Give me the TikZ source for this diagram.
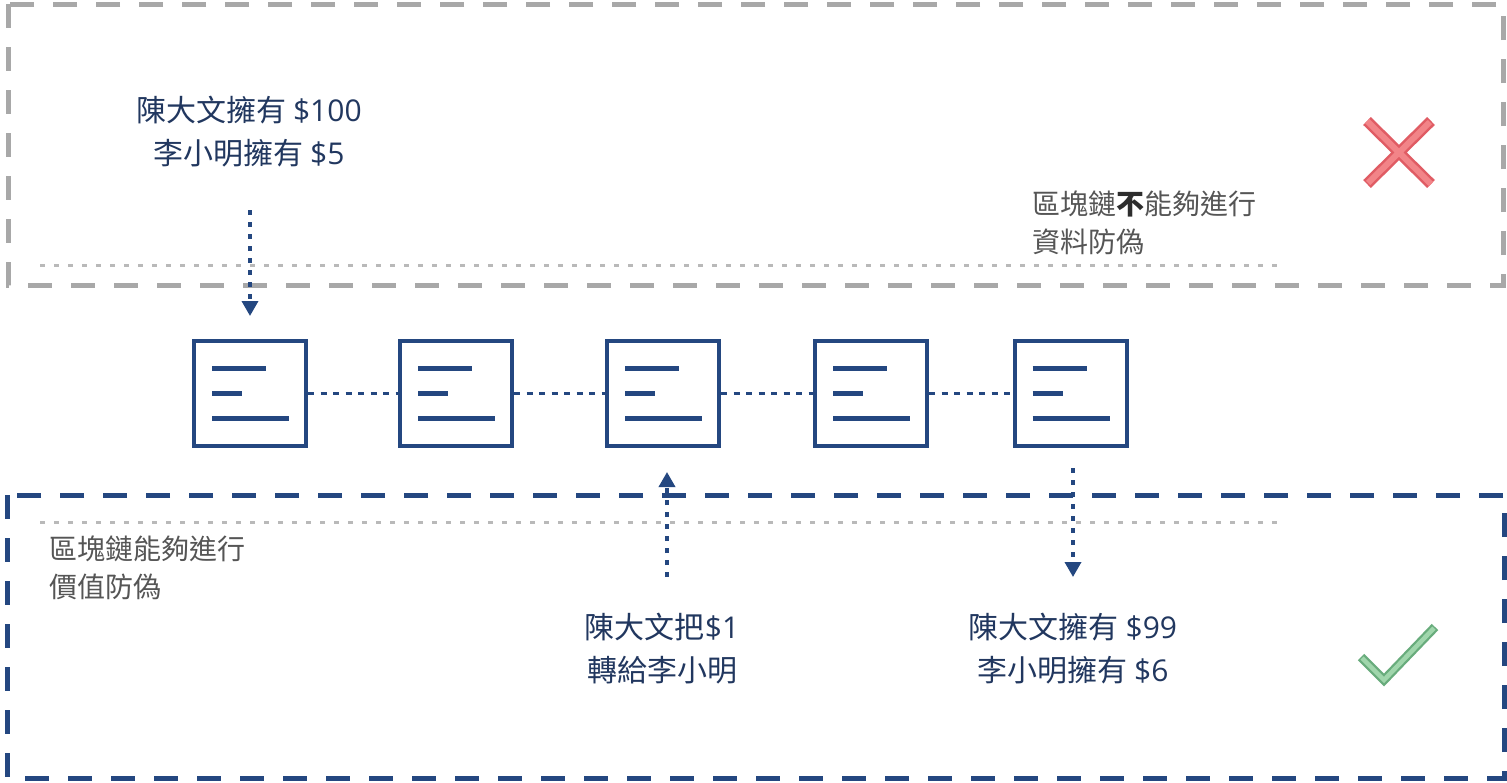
\documentclass[tikz,border=0pt]{standalone}
\usepackage{fontspec}
\newfontfamily\cjk{Noto Sans CJK TC}
\newfontfamily\lat{Open Sans}
\usetikzlibrary{arrows.meta}
\definecolor{navy}{RGB}{36,71,128}
\definecolor{navytext}{RGB}{33,55,95}
\definecolor{grayline}{RGB}{168,168,168}
\definecolor{graydot}{RGB}{185,185,185}
\definecolor{graytext}{RGB}{85,85,85}
\definecolor{boldtext}{RGB}{45,45,45}
\definecolor{xout}{RGB}{224,92,100}
\definecolor{xin}{RGB}{242,132,136}
\definecolor{cout}{RGB}{104,172,124}
\definecolor{cin}{RGB}{160,214,172}
\begin{document}
\begin{tikzpicture}[x=1pt,y=-1pt,
 blk/.style={draw=navy,line width=4pt,minimum width=112pt,minimum height=105pt,inner sep=0pt},
 bar/.style={navy,line width=5pt},
 conn/.style={navy,line width=3.5pt,dash pattern=on 6pt off 6.5pt},
 arr/.style={navy,line width=3.5pt,dash pattern=on 5pt off 7pt,-{Triangle[width=16pt,length=15pt]}},
 graybox/.style={grayline,line width=5pt,dash pattern=on 24pt off 19pt},
 bluebox/.style={navy,line width=5pt,dash pattern=on 24pt off 19pt},
 guide/.style={graydot,line width=3pt,dash pattern=on 5pt off 9pt},
 btxt/.style={text=navytext,font=\cjk\fontsize{30}{43}\selectfont,align=center,inner sep=0pt},
 gtxt/.style={text=graytext,font=\cjk\fontsize{28}{38}\selectfont,align=left,inner sep=0pt,anchor=west},
]
\useasboundingbox (0,0) rectangle (1507,782);
\fill[white] (0,0) rectangle (1507,782);

% frames
\draw[graybox] (8,4) rectangle (1503,285);
\draw[bluebox] (7,495) rectangle (1504,778);

% guide lines
\coordinate (g1a) at (40,265); \coordinate (g1b) at (1278,265);
\coordinate (g2a) at (40,522); \coordinate (g2b) at (1278,522);
\draw[guide] (g1a) -- (g1b);
\draw[guide] (g2a) -- (g2b);

% blocks
\node[blk] (b1) at (250,393.5) {};
\node[blk] (b2) at (456,393.5) {};
\node[blk] (b3) at (663,393.5) {};
\node[blk] (b4) at (871,393.5) {};
\node[blk] (b5) at (1070.5,393.5) {};
\foreach \b in {b1,b2,b3,b4,b5}{
  \draw[bar] (\b.center) ++(-38,-25) -- ++(54,0);
  \draw[bar] (\b.center) ++(-38,0) -- ++(30,0);
  \draw[bar] (\b.center) ++(-38,25) -- ++(77,0);
}
\draw[conn] (b1) -- (b2);
\draw[conn] (b2) -- (b3);
\draw[conn] (b3) -- (b4);
\draw[conn] (b4) -- (b5);

% arrows
\coordinate (ta) at (250,210);
\draw[arr] (ta) -- ([yshift=23pt]b1.north);
\coordinate (ua) at (667,577);
\coordinate (ub) at (ua |- b3.south);
\draw[arr] (ua) -- ([yshift=-24pt]ub);
\coordinate (da) at (1073,577);
\coordinate (db) at (da |- b5.south);
\draw[arr] ([yshift=-20pt]db) -- (da);

% texts
\node[btxt] (t1) at (249,131.5) {陳大文擁有 {\lat\$100}\\李小明擁有 {\lat\$5}};
\node[btxt] (t2) at (662,649) {陳大文把{\lat\$1}\\轉給李小明};
\node[btxt] (t3) at (1073,649) {陳大文擁有 {\lat\$99}\\李小明擁有 {\lat\$6}};
\node[gtxt] (t4) at (1032,223) {區塊鏈{\bfseries\color{boldtext}不}能夠進行\\資料防偽};
\node[gtxt] (t5) at (49,568) {區塊鏈能夠進行\\價值防偽};

% cross mark
\draw[xout,line width=11pt] (1367,121) -- (1431,184) (1431,121) -- (1367,184);
\draw[xin,line width=6pt,shorten <=1.5pt,shorten >=1.5pt] (1367,121) -- (1431,184) (1431,121) -- (1367,184);

% check mark
\draw[cout,line width=9pt] (1361,657) -- (1384,680) -- (1435,627);
\draw[cin,line width=4.5pt,shorten <=1.5pt,shorten >=1.5pt] (1361,657) -- (1384,680) -- (1435,627);
\end{tikzpicture}
\end{document}
